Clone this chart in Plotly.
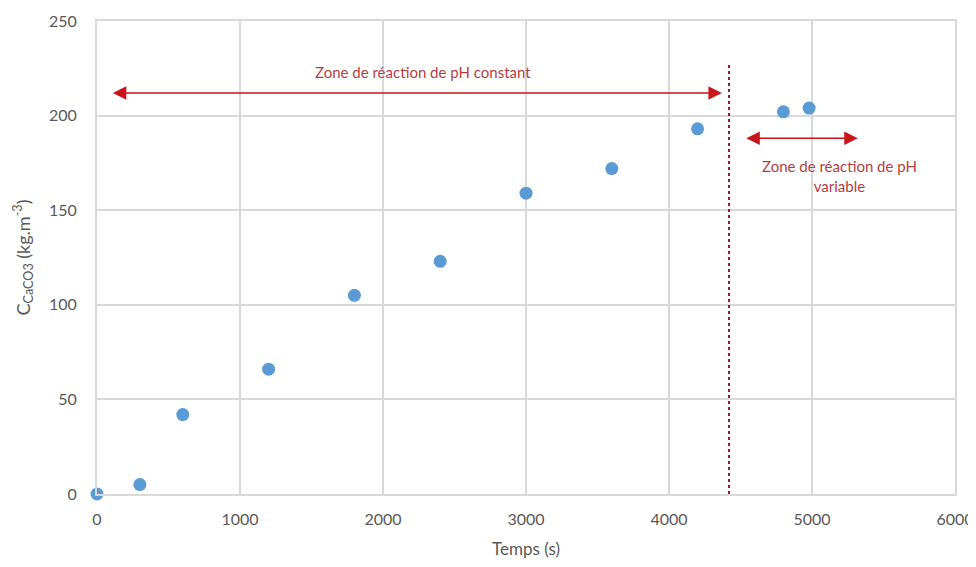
import plotly.graph_objs as go

# Mesures : temps (s) et concentration en CaCO3 (kg.m-3)
temps = [0, 300, 600, 1200, 1800, 2400, 3000, 3600, 4200, 4800, 4980]
c_caco3 = [0, 5, 42, 66, 105, 123, 159, 172, 193, 202, 204]

# Limite entre les zones et positions des flèches
t_limite = 4420
zone1 = dict(debut=100, fin=4370, niveau=212, texte_x=2280, texte_y=223)
zone2 = dict(debut=4530, fin=5320, niveau=188, texte_x=5190, texte_y=168)

rouge = '#C8141A'
texte_rouge = '#B5403F'
gris = '#595959'

trace = go.Scatter(x=temps, y=c_caco3, mode='markers',
                   marker=dict(color='#5B9BD5', size=13), showlegend=False,
                   cliponaxis=False)

# la page a une marge de 8 px autour du graphique
layout = go.Layout(
    width=968, height=551,
    paper_bgcolor='white', plot_bgcolor='white',
    margin=dict(l=89, r=21, t=13, b=65),
    font=dict(family='Lato, Open Sans, sans-serif', size=16, color=gris),
    xaxis=dict(range=[0, 6000], dtick=1000, showgrid=True, gridcolor='#D9D9D9',
               gridwidth=2, zeroline=False, showline=True, linecolor='#D9D9D9',
               linewidth=2, mirror=True, ticks='', automargin=False,
               ticklabelstandoff=10,
               title=dict(text='Temps (s)', standoff=18, font=dict(size=17))),
    yaxis=dict(range=[0, 250], dtick=50, showgrid=True, gridcolor='#D9D9D9',
               gridwidth=2, zeroline=False, showline=True, linecolor='#D9D9D9',
               linewidth=2, mirror=True, ticks='', ticklabelstandoff=15,
               automargin=False,
               title=dict(text='C<sub>CaCO3</sub> (kg.m<sup>-3</sup>)',
                          standoff=14, font=dict(size=18))),
)

fig = go.Figure(data=[trace], layout=layout)

# ligne verticale pointillée
fig.add_shape(type='line', x0=t_limite, x1=t_limite, y0=0, y1=227,
              xref='x', yref='y', line=dict(color='#8B1A1A', width=2, dash='dot'))

for z in (zone1, zone2):
    fig.add_annotation(x=z['fin'], y=z['niveau'], ax=z['debut'], ay=z['niveau'],
                       xref='x', yref='y', axref='x', ayref='y', text='',
                       showarrow=True, arrowhead=2, arrowside='end+start',
                       arrowsize=1.8, arrowwidth=1.5, arrowcolor=rouge, standoff=0,
                       startstandoff=0)

fig.add_annotation(x=zone1['texte_x'], y=zone1['texte_y'],
                   xref='x', yref='y', text='Zone de réaction de pH constant',
                   showarrow=False, font=dict(size=15, color=texte_rouge))
fig.add_annotation(x=zone2['texte_x'], y=zone2['texte_y'], xref='x', yref='y',
                   text='Zone de réaction de pH<br>variable', showarrow=False,
                   font=dict(size=15, color=texte_rouge))

fig.write_html('out.html')
